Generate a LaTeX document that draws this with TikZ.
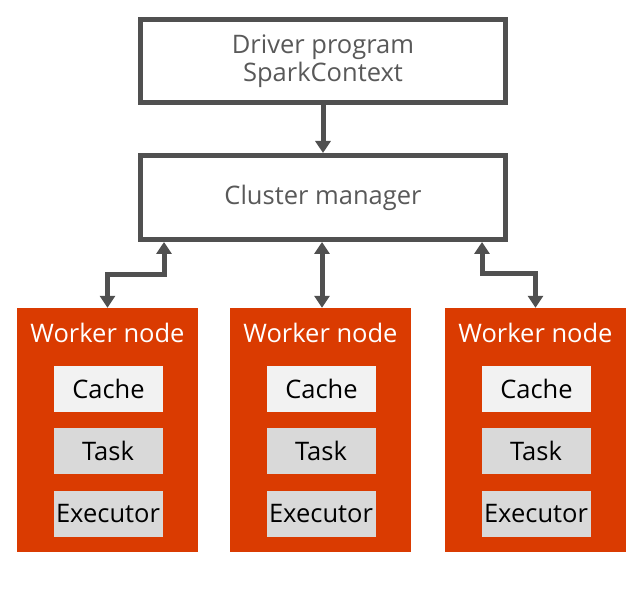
\documentclass[tikz,border=0pt]{standalone}
\usepackage{fontspec}
\setmainfont{Open Sans}
\usetikzlibrary{arrows.meta}
\definecolor{lineg}{HTML}{505050}
\definecolor{textg}{HTML}{595959}
\definecolor{wred}{HTML}{DA3B01}
\definecolor{cachef}{HTML}{F2F2F2}
\definecolor{taskf}{HTML}{D9D9D9}
\tikzset{
  bigbox/.style={draw=lineg, line width=5pt, fill=white, minimum width=365pt, text=textg, font=\fontsize{25.5}{28}\selectfont, align=center, inner sep=0pt},
  worker/.style={fill=wred, minimum width=181pt, minimum height=244pt, inner sep=0pt},
  wtitle/.style={text=white, font=\fontsize{25.5}{28}\selectfont, inner sep=0pt},
  inbox/.style={minimum width=109pt, minimum height=46pt, inner sep=0pt, text=black, font=\fontsize{25.5}{28}\selectfont},
  arr/.style={draw=lineg, line width=5pt, -{Triangle[width=15pt,length=12pt]}},
  darr/.style={draw=lineg, line width=5pt, {Triangle[width=15pt,length=12pt]}-{Triangle[width=15pt,length=12pt]}},
}
\begin{document}
\begin{tikzpicture}[x=1pt,y=-1pt]
\useasboundingbox (0,0) rectangle (643,601);
\node[bigbox, minimum height=83pt] (drv) at (323,61) {Driver program\\SparkContext};
\node[bigbox, minimum height=84pt] (cm) at (323,197.5) {Cluster manager};
\draw[arr] (drv.south) -- (cm.north);
\foreach \n/\x in {1/107.5,2/320.5,3/535.5}{
  \node[worker] (w\n) at (\x,430) {};
  \node[wtitle] (t\n) at (\x,333) {Worker node};
  \node[inbox, fill=cachef] (c\n) at (\x+1,389) {Cache};
  \node[inbox, fill=taskf] (k\n) at (\x+0.5,451) {Task};
  \node[inbox, fill=taskf] (e\n) at (\x+0.5,514) {Executor};
}
\coordinate (la) at (164,275);
\coordinate (ra) at (482,274);
\draw[darr] (w1.north) |- (la) -- (cm.south -| la);
\draw[darr] (cm.south -| 322,0) -- (w2.north -| 322,0);
\draw[darr] (w3.north) |- (ra) -- (cm.south -| ra);
\end{tikzpicture}
\end{document}
